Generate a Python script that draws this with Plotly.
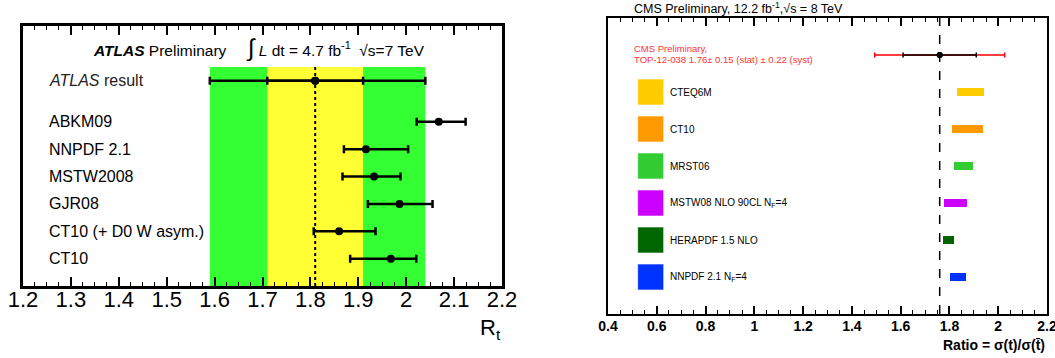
import plotly.graph_objects as go

# ---------------- Left panel (ATLAS) data ----------------
atlas_labels = ["ABKM09", "NNPDF 2.1", "MSTW2008", "GJR08", "CT10 (+ D0 W asym.)", "CT10"]
atlas_pdf_central = [2.068, 1.916, 1.933, 1.986, 1.860, 1.968]
atlas_pdf_low = [2.022, 1.870, 1.867, 1.920, 1.807, 1.883]
atlas_pdf_high = [2.124, 2.004, 1.988, 2.055, 1.936, 2.021]
atlas_pdf_pos = [6, 5, 4, 3, 2, 1]

atlas_result = 1.81
atlas_stat = 0.10
atlas_total_minus = 0.22
atlas_total_plus = 0.23
atlas_result_pos = 7.5

left_ticks = [1.2, 1.3, 1.4, 1.5, 1.6, 1.7, 1.8, 1.9, 2.0, 2.1, 2.2]

# ---------------- Right panel (CMS) data ----------------
cms_labels = ["CTEQ6M", "CT10", "MRST06", "MSTW08 NLO 90CL N<sub>F</sub>=4",
              "HERAPDF 1.5 NLO", "NNPDF 2.1 N<sub>F</sub>=4"]
cms_low = [1.831, 1.810, 1.819, 1.778, 1.774, 1.802]
cms_high = [1.942, 1.938, 1.897, 1.872, 1.819, 1.868]
cms_colors = ["#ffcc00", "#ff9900", "#33cc33", "#cc00ff", "#006600", "#0033ff"]
cms_pos = [6, 5, 4, 3, 2, 1]

cms_result = 1.76
cms_stat = 0.15
cms_syst = 0.22
cms_total = (cms_stat ** 2 + cms_syst ** 2) ** 0.5
cms_result_pos = 7

right_ticks = [0.4, 0.6, 0.8, 1.0, 1.2, 1.4, 1.6, 1.8, 2.0, 2.2]

FONT = "Liberation Sans, Arial, Helvetica, sans-serif"
W, H = 1055, 358


def px_x(p):
    return p / W


def px_y(p):
    return (H - p) / H


fig = go.Figure()

# ---- left: dotted central line
fig.add_trace(go.Scatter(x=[atlas_result, atlas_result], y=[0, 8], mode="lines",
                         line=dict(color="black", width=2, dash="dot"),
                         xaxis="x", yaxis="y", showlegend=False, hoverinfo="skip"))
# ---- left: ATLAS result total and stat
fig.add_trace(go.Scatter(x=[atlas_result], y=[atlas_result_pos], mode="markers",
                         marker=dict(color="black", size=8),
                         error_x=dict(type="data", symmetric=False, array=[atlas_total_plus],
                                      arrayminus=[atlas_total_minus], color="black",
                                      thickness=2.5, width=4),
                         xaxis="x", yaxis="y", showlegend=False))
fig.add_trace(go.Scatter(x=[atlas_result], y=[atlas_result_pos], mode="markers",
                         marker=dict(color="black", size=8),
                         error_x=dict(type="data", array=[atlas_stat], color="black",
                                      thickness=2.5, width=4),
                         xaxis="x", yaxis="y", showlegend=False))
# ---- left: PDF predictions
fig.add_trace(go.Scatter(
    x=atlas_pdf_central, y=atlas_pdf_pos, mode="markers",
    marker=dict(color="black", size=8),
    error_x=dict(type="data", symmetric=False,
                 array=[h - c for h, c in zip(atlas_pdf_high, atlas_pdf_central)],
                 arrayminus=[c - l for c, l in zip(atlas_pdf_central, atlas_pdf_low)],
                 color="black", thickness=2.5, width=4),
    xaxis="x", yaxis="y", showlegend=False))

# ---- right: dashed line
fig.add_trace(go.Scatter(x=[cms_result, cms_result], y=[0, 8], mode="lines",
                         line=dict(color="black", width=1.5, dash="dash"),
                         xaxis="x2", yaxis="y2", showlegend=False, hoverinfo="skip"))
# ---- right: bars
fig.add_trace(go.Bar(
    orientation="h", base=cms_low, x=[h - l for h, l in zip(cms_high, cms_low)],
    y=cms_pos, width=0.21, marker=dict(color=cms_colors, line=dict(width=0)),
    xaxis="x2", yaxis="y2", showlegend=False))
# ---- right: legend squares
fig.add_trace(go.Scatter(
    x=[0.575] * len(cms_pos), y=cms_pos, mode="markers",
    marker=dict(symbol="square", size=26, color=cms_colors,
                line=dict(color="rgba(255,255,255,0.6)", width=1)),
    xaxis="x2", yaxis="y2", showlegend=False, hoverinfo="skip"))
# ---- right: measurement
fig.add_trace(go.Scatter(x=[cms_result], y=[cms_result_pos], mode="markers",
                         marker=dict(color="black", size=6),
                         error_x=dict(type="data", array=[cms_total], color="red",
                                      thickness=1.5, width=2.5),
                         xaxis="x2", yaxis="y2", showlegend=False))
fig.add_trace(go.Scatter(x=[cms_result], y=[cms_result_pos], mode="markers",
                         marker=dict(color="black", size=6),
                         error_x=dict(type="data", array=[cms_stat], color="black",
                                      thickness=1.5, width=2.5),
                         xaxis="x2", yaxis="y2", showlegend=False))

shapes = [
    dict(type="rect", xref="x", yref="y", x0=atlas_result - atlas_total_minus,
         x1=atlas_result + atlas_total_plus, y0=0, y1=8,
         fillcolor="#33ff33", line=dict(width=0), layer="below"),
    dict(type="rect", xref="x", yref="y", x0=atlas_result - atlas_stat,
         x1=atlas_result + atlas_stat, y0=0, y1=8,
         fillcolor="#ffff33", line=dict(width=0), layer="below"),
]

annotations = []
# left labels
for lab, pos in zip(atlas_labels, atlas_pdf_pos):
    annotations.append(dict(x=1.25, y=pos, xref="x", yref="y", text=lab, showarrow=False,
                            xanchor="left", yanchor="middle",
                            font=dict(family=FONT, size=16, color="black")))
annotations.append(dict(x=1.25, y=atlas_result_pos, xref="x", yref="y",
                        text="<i>ATLAS</i> result", showarrow=False,
                        xanchor="left", yanchor="middle",
                        font=dict(family=FONT, size=16, color="#222")))
annotations.append(dict(x=1.342, y=8.69, xref="x", yref="y",
                        text="<b><i>ATLAS</i></b> Preliminary     "
                             "<span style='font-size:24px'>∫</span> <i>L</i> dt = 4.7 fb<sup>-1</sup>  √s=7 TeV",
                        showarrow=False, xanchor="left", yanchor="middle",
                        font=dict(family=FONT, size=15.5, color="black")))
annotations.append(dict(x=px_x(503), y=px_y(329), xref="paper", yref="paper",
                        text="R<sub>t</sub>", showarrow=False, xanchor="right", yanchor="middle",
                        font=dict(family=FONT, size=22, color="black")))
# right labels
for lab, pos in zip(cms_labels, cms_pos):
    annotations.append(dict(x=0.645, y=pos, xref="x2", yref="y2", text=lab, showarrow=False,
                            xanchor="left", yanchor="middle",
                            font=dict(family=FONT, size=10, color="black")))
annotations.append(dict(x=0.5, y=7.18, xref="x2", yref="y2", text="CMS Preliminary,",
                        showarrow=False, xanchor="left", yanchor="middle",
                        font=dict(family=FONT, size=9.5, color="#ff3333")))
annotations.append(dict(x=0.5, y=6.89, xref="x2", yref="y2",
                        text="TOP-12-038 1.76± 0.15 (stat) ± 0.22 (syst)",
                        showarrow=False, xanchor="left", yanchor="middle",
                        font=dict(family=FONT, size=9.5, color="#ff3333")))
annotations.append(dict(x=px_x(632), y=px_y(8), xref="paper", yref="paper",
                        text="CMS Preliminary, 12.2 fb<sup>-1</sup>,√s = 8 TeV",
                        showarrow=False, xanchor="left", yanchor="middle",
                        font=dict(family=FONT, size=12.5, color="black")))
annotations.append(dict(x=px_x(1047), y=px_y(345), xref="paper", yref="paper",
                        text="<b>Ratio = σ(t)/σ(t̄)</b>",
                        showarrow=False, xanchor="right", yanchor="middle",
                        font=dict(family=FONT, size=14, color="black")))

fig.update_layout(
    width=W, height=H, margin=dict(l=0, r=0, t=0, b=0, autoexpand=False),
    paper_bgcolor="white", plot_bgcolor="white",
    shapes=shapes, annotations=annotations, bargap=0,
    xaxis=dict(domain=[px_x(23), px_x(502)], range=[1.2, 2.2], tickvals=left_ticks,
               ticks="inside", ticklen=9, tickwidth=1.5, tickcolor="black",
               minor=dict(dtick=0.025, ticks="inside", ticklen=4, tickwidth=1.2, tickcolor="black"),
               showline=True, linecolor="black", linewidth=2.5, mirror="allticks",
               showgrid=False, zeroline=False, automargin=False,
               ticklabelstandoff=-8, ticklabeloverflow="allow",
               tickfont=dict(family=FONT, size=22, color="black"), anchor="y"),
    yaxis=dict(domain=[px_y(286), px_y(26)], range=[0, 9.5], showticklabels=False,
               ticks="", showgrid=False, zeroline=False, showline=True, linecolor="black",
               linewidth=2.5, mirror=True, anchor="x", automargin=False),
    xaxis2=dict(domain=[px_x(608), px_x(1047)], range=[0.4, 2.2], tickvals=right_ticks,
                ticks="inside", ticklen=8, tickwidth=1.5, tickcolor="black",
                minor=dict(dtick=0.05, ticks="inside", ticklen=4, tickwidth=1.2, tickcolor="black"),
                showline=True, linecolor="black", linewidth=2, mirror="allticks",
                showgrid=False, zeroline=False, automargin=False,
                ticklabelstandoff=-2, ticklabeloverflow="allow",
                tickfont=dict(family=FONT, size=14, color="black", weight="bold"), anchor="y2"),
    yaxis2=dict(domain=[px_y(314), px_y(18)], range=[0, 8], showticklabels=False,
                ticks="", showgrid=False, zeroline=False, showline=True, linecolor="black",
                linewidth=2, mirror=True, anchor="x2", automargin=False),
)

fig.write_html("out.html", config={"displayModeBar": False},
               post_script="document.body.style.margin='0';document.body.style.overflow='hidden';")
